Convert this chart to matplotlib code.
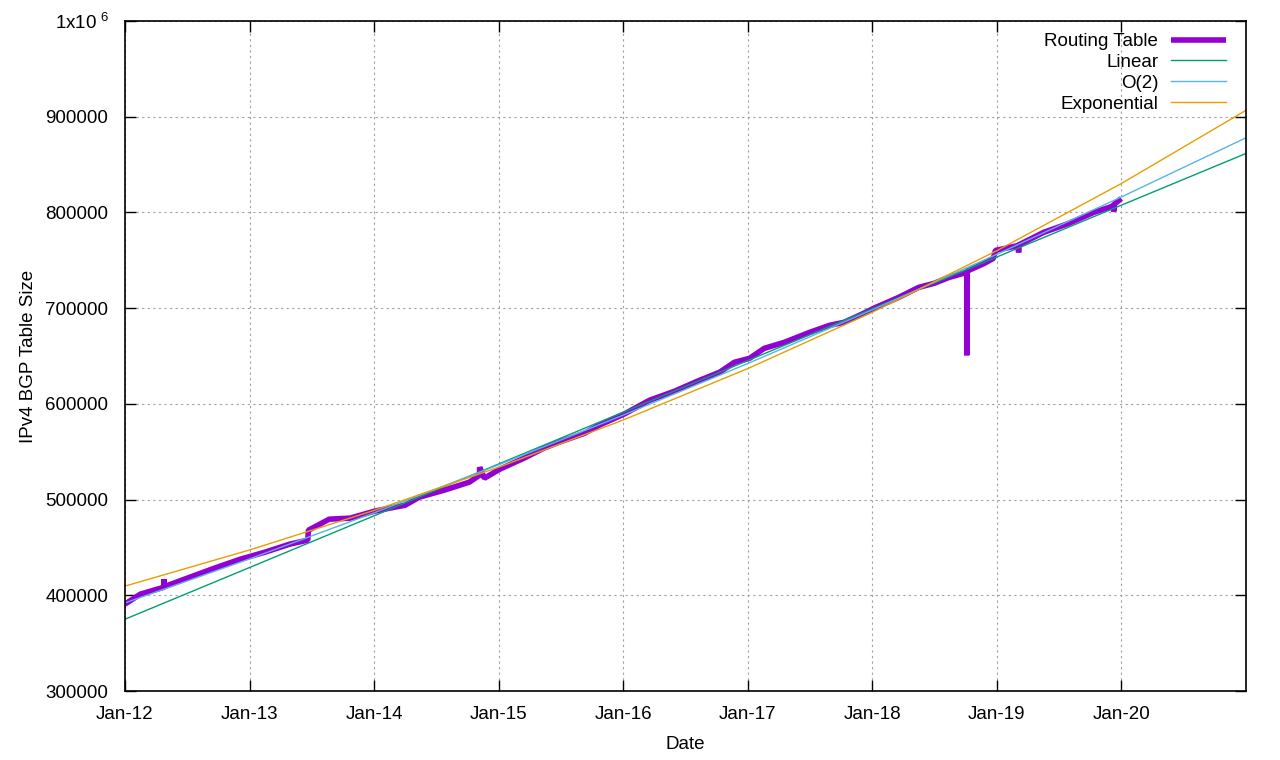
import matplotlib
matplotlib.use('Agg')
import numpy as np
import pandas as pd
import matplotlib.pyplot as plt
import matplotlib.dates as mdates

plt.rcParams['font.family'] = ['Liberation Sans', 'DejaVu Sans']
plt.rcParams['mathtext.default'] = 'regular'

# routing table samples (spikes are repeated dates)
rt_dates = ['2012-01-01', '2012-02-15', '2012-04-25', '2012-04-25', '2012-04-25',
            '2012-07-10', '2012-09-20', '2012-12-05', '2013-02-15', '2013-04-28',
            '2013-06-20', '2013-06-22', '2013-08-22', '2013-10-22', '2014-01-03',
            '2014-03-01', '2014-04-01', '2014-05-13', '2014-07-25', '2014-10-07',
            '2014-11-06', '2014-11-06', '2014-11-20', '2015-01-04', '2015-03-16',
            '2015-05-13', '2015-06-27', '2015-09-10', '2015-10-23', '2016-01-05',
            '2016-03-18', '2016-05-30', '2016-08-12', '2016-10-10', '2016-11-22',
            '2017-01-06', '2017-02-18', '2017-04-18', '2017-07-01', '2017-08-28',
            '2017-10-10', '2017-11-24', '2018-01-08', '2018-03-19', '2018-05-17',
            '2018-07-01', '2018-08-14', '2018-10-05', '2018-10-05', '2018-10-05',
            '2018-11-25', '2018-12-22', '2018-12-28', '2019-03-06', '2019-03-06',
            '2019-03-06', '2019-05-18', '2019-07-31', '2019-10-12', '2019-11-26',
            '2019-12-10', '2019-12-10', '2019-12-10', '2020-01-01']
rt_values = [390800, 401200, 408500, 417000, 409000,
             419000, 428400, 437800, 445100, 453400,
             457600, 468000, 479500, 480600, 488000,
             492000, 494000, 502500, 509800, 518200,
             525500, 533800, 522300, 531700, 543200,
             553600, 559900, 569300, 577700, 589500,
             603700, 613100, 624600, 633000, 643400,
             647600, 658000, 664300, 674700, 682000,
             685200, 692500, 700300, 711200, 721700,
             725900, 732100, 737300, 650700, 738500,
             746700, 752000, 760300, 765500, 758200,
             766000, 779100, 788500, 800000, 805200,
             807000, 801000, 808000, 814600]

# fitted curves, sampled each January from the chart
fit_dates = ['2012-01-01', '2013-01-01', '2014-01-01', '2015-01-01', '2016-01-01',
             '2017-01-01', '2018-01-01', '2019-01-01', '2020-01-01', '2021-01-01']
linear = [375000, 429100, 483100, 537200, 591200, 645300, 699400, 753400, 807500, 861600]
quad = [392000, 438100, 486200, 536300, 588200, 642200, 698200, 756200, 816100, 878000]
expo = [409600, 447400, 488700, 533800, 583100, 636900, 695700, 760000, 830100, 906700]

yticks = [300000, 400000, 500000, 600000, 700000, 800000, 900000, 1000000]
ylabels = ['300000', '400000', '500000', '600000', '700000', '800000', '900000', '1x10$^{\\ 6}$']

rt_d = pd.to_datetime(rt_dates)
fit_d = pd.to_datetime(fit_dates)

fig = plt.figure(figsize=(12.8, 7.6), dpi=100)
ax = fig.add_axes([125 / 1280, 1 - 691 / 760, 1121 / 1280, 670 / 760])

ax.plot(rt_d, rt_values, color='#9400D3', lw=4, label='Routing Table',
        solid_joinstyle='bevel', solid_capstyle='butt')
ax.plot(fit_d, linear, color='#009E73', lw=1, label='Linear')
ax.plot(fit_d, quad, color='#56B4E9', lw=1, label='O(2)')
ax.plot(fit_d, expo, color='#E69F00', lw=1, label='Exponential')

ax.set_xlim(pd.Timestamp('2012-01-01'), pd.Timestamp('2021-01-01'))
ax.set_ylim(300000, 1000000)
xt = pd.to_datetime(fit_dates[:-1])
ax.set_xticks(xt)
ax.xaxis.set_major_formatter(mdates.DateFormatter('%b-%y'))
ax.set_yticks(yticks)
ax.set_yticklabels(ylabels)

ax.grid(True, color='#a0a0a0', linestyle=(0, (2, 3)), lw=0.8)
ax.tick_params(direction='in', length=8, width=1, top=True, right=True, labelsize=13.5)
ax.tick_params(axis='x', pad=11)
ax.tick_params(axis='y', pad=12)
for s in ax.spines.values():
    s.set_linewidth(1.2)

ax.set_xlabel('Date', fontsize=13.5, labelpad=9)
ax.set_ylabel('IPv4 BGP Table Size', fontsize=13.5, labelpad=6)

leg = ax.legend(loc='upper right', bbox_to_anchor=(0.982, 0.982), frameon=False, markerfirst=False,
                fontsize=13.5, handlelength=2.9, handletextpad=0.7, labelspacing=0.2,
                borderpad=0, borderaxespad=0)

fig.savefig('out.png', dpi=100)
